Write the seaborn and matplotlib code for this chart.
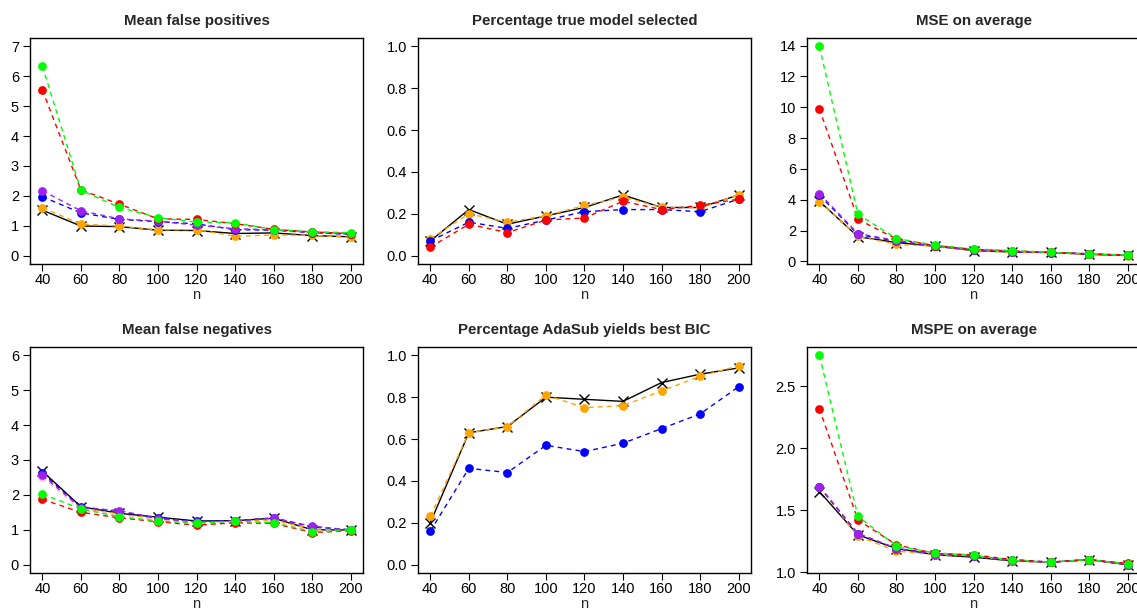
import numpy as np
import pandas as pd
import matplotlib
matplotlib.use('Agg')
import matplotlib.pyplot as plt
import seaborn as sns

# sample sizes on the x axis
n_vals = [40, 60, 80, 100, 120, 140, 160, 180, 200]

# Mean false positives
fp_black = [1.52, 0.99, 0.97, 0.85, 0.84, 0.74, 0.76, 0.67, 0.63]
fp_orange = [1.60, 1.06, 0.99, 0.86, 0.87, 0.65, 0.69, 0.68, 0.61]
fp_blue = [1.97, 1.43, 1.21, 1.14, 1.06, 0.87, 0.85, 0.77, 0.71]
fp_purple = [2.17, 1.50, 1.23, 1.15, 1.02, 0.90, 0.86, 0.78, 0.72]
fp_red = [5.54, 2.20, 1.72, 1.23, 1.21, 1.07, 0.88, 0.79, 0.74]
fp_green = [6.34, 2.19, 1.61, 1.27, 1.12, 1.10, 0.87, 0.80, 0.77]

# Percentage true model selected
tm_black = [0.07, 0.22, 0.15, 0.19, 0.23, 0.29, 0.23, 0.23, 0.29]
tm_orange = [0.08, 0.20, 0.16, 0.19, 0.24, 0.28, 0.23, 0.23, 0.29]
tm_blue = [0.07, 0.16, 0.13, 0.17, 0.21, 0.22, 0.22, 0.21, 0.27]
tm_red = [0.04, 0.15, 0.11, 0.17, 0.18, 0.26, 0.22, 0.24, 0.27]

# MSE on average
mse_black = [3.90, 1.60, 1.22, 0.98, 0.70, 0.60, 0.58, 0.45, 0.38]
mse_orange = [3.88, 1.62, 1.10, 0.98, 0.72, 0.58, 0.55, 0.45, 0.37]
mse_blue = [4.30, 1.75, 1.30, 1.00, 0.75, 0.62, 0.57, 0.48, 0.38]
mse_purple = [4.40, 1.80, 1.35, 0.98, 0.76, 0.63, 0.58, 0.50, 0.40]
mse_red = [9.90, 2.72, 1.45, 1.02, 0.78, 0.68, 0.58, 0.48, 0.40]
mse_green = [13.95, 3.05, 1.48, 1.05, 0.80, 0.70, 0.58, 0.48, 0.40]

# Mean false negatives
fn_black = [2.68, 1.66, 1.47, 1.36, 1.25, 1.26, 1.33, 1.00, 0.99]
fn_orange = [2.60, 1.62, 1.45, 1.30, 1.22, 1.24, 1.28, 1.02, 0.99]
fn_blue = [2.63, 1.66, 1.52, 1.33, 1.24, 1.26, 1.34, 1.08, 1.00]
fn_pink = [2.50, 1.58, 1.42, 1.28, 1.18, 1.21, 1.24, 0.97, 0.98]
fn_purple = [2.56, 1.63, 1.55, 1.32, 1.23, 1.25, 1.33, 1.10, 0.99]
fn_red = [1.87, 1.50, 1.34, 1.23, 1.13, 1.20, 1.18, 0.92, 0.97]
fn_green = [2.02, 1.60, 1.37, 1.25, 1.19, 1.24, 1.20, 0.94, 0.99]

# Percentage AdaSub yields best BIC
bic_black = [0.20, 0.63, 0.66, 0.80, 0.79, 0.78, 0.87, 0.91, 0.94]
bic_orange = [0.23, 0.63, 0.66, 0.81, 0.75, 0.76, 0.83, 0.90, 0.95]
bic_blue = [0.16, 0.46, 0.44, 0.57, 0.54, 0.58, 0.65, 0.72, 0.85]

# MSPE on average
mspe_black = [1.65, 1.30, 1.19, 1.14, 1.12, 1.09, 1.08, 1.10, 1.06]
mspe_orange = [1.69, 1.29, 1.17, 1.14, 1.13, 1.09, 1.08, 1.10, 1.06]
mspe_blue = [1.69, 1.31, 1.19, 1.15, 1.13, 1.10, 1.08, 1.10, 1.06]
mspe_purple = [1.69, 1.31, 1.19, 1.14, 1.13, 1.09, 1.08, 1.10, 1.06]
mspe_red = [2.32, 1.42, 1.22, 1.15, 1.14, 1.10, 1.08, 1.10, 1.07]
mspe_green = [2.75, 1.45, 1.21, 1.155, 1.135, 1.095, 1.08, 1.10, 1.065]

colors = {'black': 'black', 'orange': '#FFA500', 'blue': '#0000FF',
          'pink': '#FFC0CB', 'purple': '#A020F0', 'red': '#FF0000',
          'green': '#00FF00'}

sns.set_theme(style='white')
plt.rcParams['font.family'] = ['Liberation Sans', 'DejaVu Sans']


#
def plot_panel(ax, title, series, ylim, yticks, yfmt):

    for name, vals in series:
        if name == 'black':
            sns.lineplot(x=n_vals, y=vals, ax=ax, color='black', lw=1.0,
                         marker='x', markersize=7.5, markeredgewidth=1.0,
                         markeredgecolor='black')
        else:
            sns.lineplot(x=n_vals, y=vals, ax=ax, color=colors[name], lw=1.0,
                         linestyle=(0, (3.5, 3)), marker='o', markersize=6.3,
                         markeredgewidth=0, markerfacecolor=colors[name])

    ax.set_xlim(33.6, 206.4)
    pad = (ylim[1] - ylim[0]) * 0.04
    ax.set_ylim(ylim[0] - pad, ylim[1] + pad)
    ax.set_xticks(n_vals)
    ax.set_yticks(yticks)
    ax.set_yticklabels([yfmt.format(t) for t in yticks])
    ax.tick_params(axis='both', direction='out', length=5, width=0.8,
                   labelsize=10.5, colors='black', bottom=True, left=True)
    ax.tick_params(axis='x', pad=1.5)
    ax.tick_params(axis='y', pad=3)
    for sp in ax.spines.values():
        sp.set_visible(True)
        sp.set_color('black')
        sp.set_linewidth(1.0)
    ax.set_title(title, fontsize=10.8, fontweight='bold', pad=9)
    ax.set_xlabel('n', fontsize=10.5, labelpad=1)
    ax.set_ylabel('')


fig = plt.figure(figsize=(11.37, 6.08), dpi=100)

w, h = 0.2929, 0.3717
lefts = [0.0264, 0.3676, 0.7098]
bottoms = [0.5658, 0.0576]

ax1 = fig.add_axes([lefts[0], bottoms[0], w, h])
plot_panel(ax1, 'Mean false positives',
           [('black', fp_black), ('orange', fp_orange), ('blue', fp_blue),
            ('purple', fp_purple), ('red', fp_red), ('green', fp_green)],
           (0, 7), list(range(0, 8)), '{:.0f}')

ax2 = fig.add_axes([lefts[1], bottoms[0], w, h])
plot_panel(ax2, 'Percentage true model selected',
           [('black', tm_black), ('orange', tm_orange), ('blue', tm_blue),
            ('red', tm_red)],
           (0, 1), [0, 0.2, 0.4, 0.6, 0.8, 1.0], '{:.1f}')

ax3 = fig.add_axes([lefts[2], bottoms[0], w, h])
plot_panel(ax3, 'MSE on average',
           [('black', mse_black), ('orange', mse_orange), ('blue', mse_blue),
            ('purple', mse_purple), ('red', mse_red), ('green', mse_green)],
           (0.37, 13.95), list(range(0, 15, 2)), '{:.0f}')

ax4 = fig.add_axes([lefts[0], bottoms[1], w, h])
plot_panel(ax4, 'Mean false negatives',
           [('black', fn_black), ('orange', fn_orange), ('blue', fn_blue),
            ('pink', fn_pink), ('purple', fn_purple), ('red', fn_red),
            ('green', fn_green)],
           (0, 6), list(range(0, 7)), '{:.0f}')

ax5 = fig.add_axes([lefts[1], bottoms[1], w, h])
plot_panel(ax5, 'Percentage AdaSub yields best BIC',
           [('black', bic_black), ('orange', bic_orange), ('blue', bic_blue)],
           (0, 1), [0, 0.2, 0.4, 0.6, 0.8, 1.0], '{:.1f}')

ax6 = fig.add_axes([lefts[2], bottoms[1], w, h])
plot_panel(ax6, 'MSPE on average',
           [('black', mspe_black), ('orange', mspe_orange), ('blue', mspe_blue),
            ('purple', mspe_purple), ('red', mspe_red), ('green', mspe_green)],
           (1.06, 2.75), [1.0, 1.5, 2.0, 2.5], '{:.1f}')

fig.savefig('out.png', dpi=100)
